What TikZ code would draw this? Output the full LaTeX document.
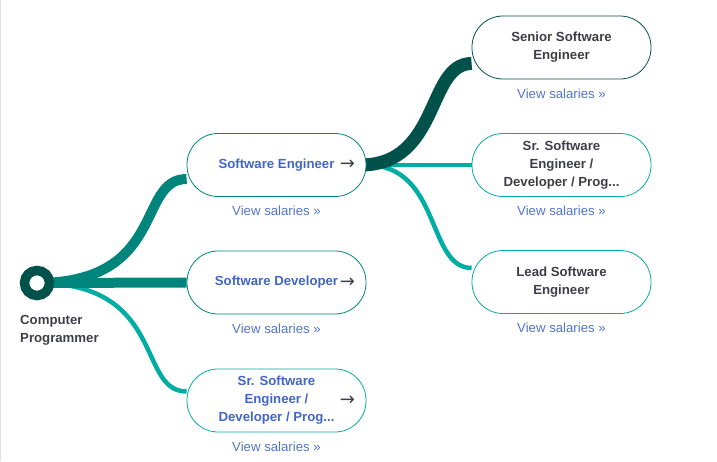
\documentclass[tikz,border=0pt]{standalone}
\usepackage{fontspec}
\setmainfont{Liberation Sans}
\newfontfamily\arr{DejaVu Sans}
\usetikzlibrary{positioning,backgrounds}
\definecolor{deep}{HTML}{03514B}
\definecolor{teal1}{HTML}{00857C}
\definecolor{teal2}{HTML}{00ADA2}
\definecolor{ink}{HTML}{3E3E48}
\definecolor{linkblue}{HTML}{4166C5}
\definecolor{viewblue}{HTML}{5274C9}

\begin{document}
\begin{tikzpicture}[x=1pt, y=-1pt, font=\fontsize{13.2}{18}\selectfont,
  pill/.style={draw=#1, fill=white, line width=.8pt, rounded corners=31pt,
    minimum width=179pt, minimum height=63pt, align=center, inner sep=0pt,
    font=\fontsize{13.2}{18}\selectfont\bfseries},
  job/.style={pill=#1, text=ink},
  step1/.style={pill=#1, text=linkblue},
  go/.style={text=ink, font=\fontsize{18}{18}\selectfont\arr, inner sep=0pt},
  salary/.style={below=9pt of #1, text=viewblue, inner sep=0pt}]
\useasboundingbox (0,0) rectangle (717,461);
\draw [black!12] (.5,0) -- (.5,461);
% root
\node [circle, draw=deep, line width=9.5pt, fill=white, minimum size=25pt] (root) at (37,283) {};
\node [anchor=north west, align=left, inner sep=0pt, text=ink, font=\fontsize{13.2}{18}\selectfont\bfseries]
  (root-label) at (20,315) {Computer\\Programmer};
% first step
\node [step1=teal1] (se)  at (276.5,165) {Software Engineer};
\node [step1=teal1] (sd)  at (276.5,282.5) {Software Developer};
\node [step1=teal2] (sr1) at (276.5,400.5) {Sr. Software\\Engineer /\\Developer / Prog...};
\foreach \n in {se, sd, sr1} \node [go] (\n-go) at ([xshift=-19pt]\n.east) {→};
% second step
\node [job=deep]  (senior) at (561.5,47.5)  {Senior Software\\Engineer};
\node [job=teal2] (sr2)    at (561.5,165)   {Sr. Software\\Engineer /\\Developer / Prog...};
\node [job=teal2] (lead)   at (561.5,282)   {Lead Software\\Engineer};
\foreach \n in {se, sd, sr1, senior, sr2, lead} \node [salary=\n] (\n-pay) {View salaries »};
% branches
\begin{scope}[on background layer]
\draw [teal2, line width=4.5pt] (root.center) .. controls +(130,0) and +(-50,0) .. ([yshift=9pt]sr1.west);
\draw [teal1, line width=10pt] (root.center) -- (sd.west);
\draw [teal1, line width=10pt] (root.center) .. controls +(130,0) and +(-50,0) .. ([yshift=-14pt]se.west);
\draw [teal2, line width=4.5pt] (se.east) .. controls +(75,0) and +(-45,0) .. ([yshift=14pt]lead.west);
\draw [teal2, line width=4.5pt] (se.east) -- (sr2.west);
\draw [deep, line width=13pt] ([xshift=-6pt]se.east) .. controls +(80,0) and +(-45,0) .. ([yshift=-16pt]senior.west);
\end{scope}
\end{tikzpicture}
\end{document}
